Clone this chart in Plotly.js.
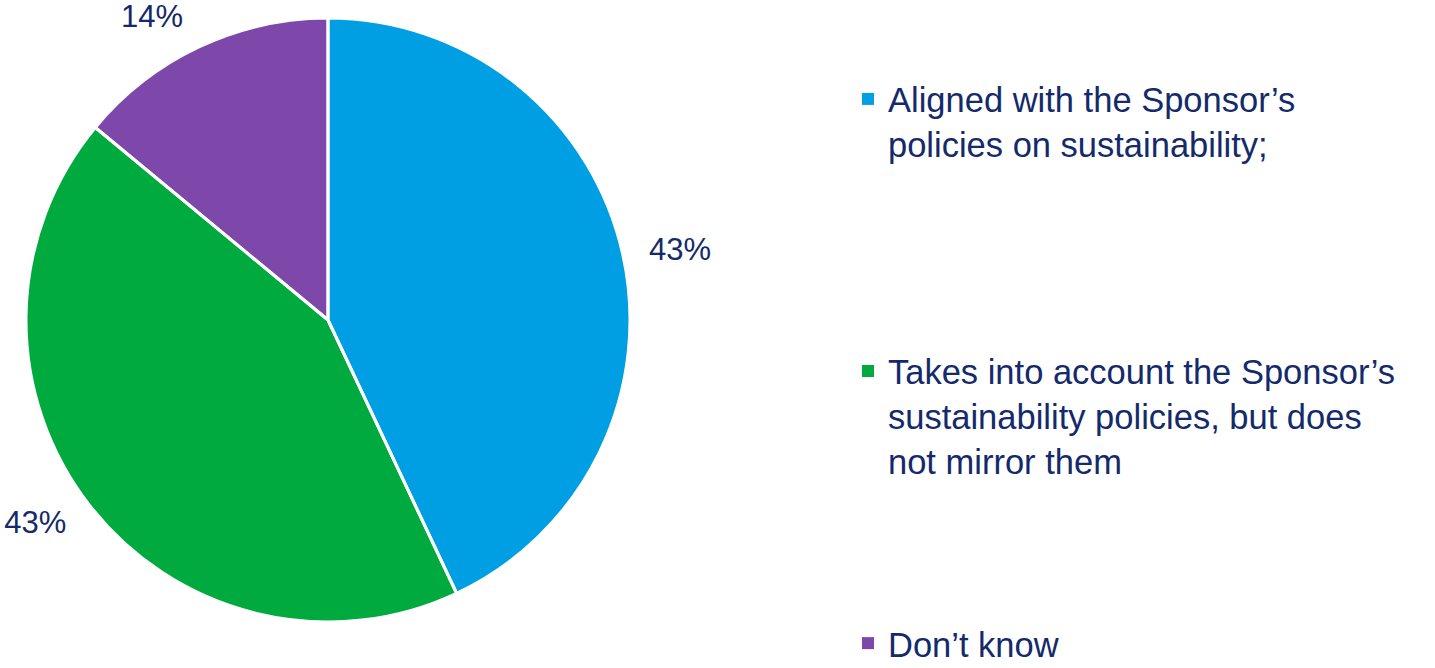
<!DOCTYPE html>
<html>
<head>
<meta charset="utf-8">
<script src="https://cdn.plot.ly/plotly-3.0.1.min.js"></script>
<style>html,body{margin:0;padding:0;background:#fff;}#chart{width:1435px;height:668px;}</style>
</head>
<body>
<div id="chart"></div>
<script>
const categories = [
  "Aligned with the Sponsor’s<br>policies on sustainability;",
  "Takes into account the Sponsor’s<br>sustainability policies, but does<br>not mirror them",
  "Don’t know"
];
const shares = [43, 43, 14];
const sliceColors = ["#009FE3", "#00AA3F", "#7E48AA"];
const blankLines = [4, 3, 0];

const navy = "#142A6A";
const fontFam = "Liberation Sans, Arial, sans-serif";
const legendLabels = categories.map((c, i) => c + "<br> ".repeat(blankLines[i]));

const cx = 328, cy = 320, R = 302, Rt = 320, W = 1435, H = 668;
const dom = r => ({x: [(cx - r) / W, (cx + r) / W], y: [(H - cy - r) / H, Math.min(1, (H - cy + r) / H)]});

const common = {
  type: "pie", values: shares, sort: false, direction: "clockwise",
  rotation: 0, hoverinfo: "none"
};

const fills = Object.assign({}, common, {
  labels: legendLabels,
  marker: {colors: sliceColors, line: {width: 0}},
  textinfo: "none",
  domain: dom(R)
});

const borders = Object.assign({}, common, {
  labels: categories.map(c => "b:" + c),
  showlegend: false,
  marker: {colors: sliceColors.map(() => "rgba(0,0,0,0)"), line: {color: "#ffffff", width: 3}},
  textinfo: "none",
  domain: dom(R)
});

const labelsTrace = Object.assign({}, common, {
  labels: categories.map(c => "t:" + c),
  showlegend: false,
  marker: {colors: sliceColors.map(() => "rgba(0,0,0,0)"), line: {width: 0}},
  textposition: "outside",
  texttemplate: "%{value}%",
  textfont: {family: fontFam, size: 31, color: navy},
  domain: dom(Rt)
});

const layout = {
  width: W, height: H,
  margin: {l: 0, r: 0, t: 0, b: 0, autoexpand: false},
  paper_bgcolor: "#ffffff",
  showlegend: true,
  legend: {
    x: 848 / W, xanchor: "left",
    y: 1 - 70 / H, yanchor: "top",
    valign: "top",
    maxheight: 2000,
    font: {family: fontFam, size: 34.5, color: navy},
    bgcolor: "rgba(0,0,0,0)"
  }
};

Plotly.newPlot("chart", [fills, borders, labelsTrace], layout, {displayModeBar: false, staticPlot: true});
</script>
</body>
</html>
